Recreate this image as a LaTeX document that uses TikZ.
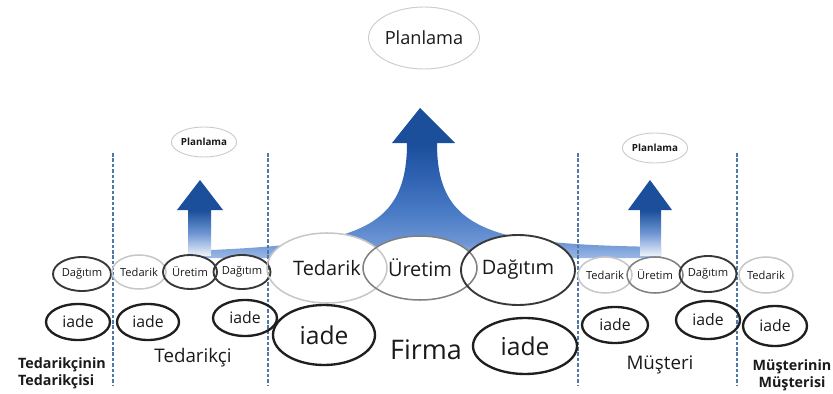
\documentclass[tikz,border=0pt]{standalone}
\usepackage{fontspec}
\setmainfont{Open Sans}
\usetikzlibrary{shapes.geometric}

\pgfdeclarelayer{background}
\pgfsetlayers{background,main}

\definecolor{flowdark}{HTML}{1B4F9C}
\definecolor{flowmid}{HTML}{2F62B2}
\definecolor{flowblue}{HTML}{4A7CC6}
\definecolor{flowsoft}{HTML}{6E96D4}
\definecolor{flowband}{HTML}{9BB9E6}
\definecolor{smallpale}{HTML}{EEF3FB}
\definecolor{divider}{HTML}{4F78A8}
\definecolor{ink}{HTML}{1A1A1A}

% vertical colour runs for the arrows (the path box maps onto 25bp..75bp)
\pgfdeclareverticalshading{bigflow}{100bp}{color(0bp)=(flowband); color(25bp)=(flowband); color(30bp)=(flowsoft); color(40bp)=(flowblue); color(52bp)=(flowmid); color(63bp)=(flowdark); color(100bp)=(flowdark)}
\pgfdeclareverticalshading{smallflow}{100bp}{color(0bp)=(smallpale); color(25bp)=(smallpale); color(40bp)=(flowsoft); color(55bp)=(flowdark); color(100bp)=(flowdark)}

\tikzset{
  stagebox/.style={ellipse, inner sep=0pt, outer sep=0pt, text=ink},
  light/.style={draw=black!22, line width=1.3pt},
  mid/.style={draw=black!50, line width=1.3pt},
  dark/.style={draw=black!78, line width=1.6pt},
  ret/.style={draw=black!88, line width=2pt},
  plan/.style={draw=black!20, line width=0.8pt},
  smalltxt/.style={font=\fontsize{9.5}{10}\selectfont},
  bigtxt/.style={font=\fontsize{17}{18}\selectfont},
  iadesmall/.style={font=\fontsize{13.5}{14}\selectfont},
  iadebig/.style={font=\fontsize{21}{22}\selectfont},
  divline/.style={draw=divider, line width=0.9pt, dash pattern=on 3pt off 1.6pt},
  zonetxt/.style={text=ink, font=\fontsize{16}{17}\selectfont},
  outertxt/.style={text=ink, font=\fontsize{12.2}{14.6}\selectfont\bfseries},
}

% #1 name, #2 x, #3 y, #4 x radius, #5 y radius, #6 style, #7 text
\newcommand\stage[7]{%
  \begin{pgfonlayer}{background}
    \fill[white] (#2,#3) ellipse [x radius=#4, y radius=#5];
  \end{pgfonlayer}
  \node[stagebox, #6, minimum width={2*#4*0.03cm}, minimum height={2*#5*0.03cm}] (#1) at (#2,#3) {#7};
}

\begin{document}
\begin{tikzpicture}[x=0.03cm, y=-0.03cm]
\useasboundingbox (0,0) rectangle (833,394);

% flows of information rising to planning
\begin{pgfonlayer}{background}
  \shade[shading=bigflow]
    (407,143) -- (392,143) -- (420,108) -- (455,143) -- (437,143)
    .. controls (437,195) and (455,225) .. (520,238)
    .. controls (565,245) and (610,246) .. (661,247)
    -- (661,258) -- (188,258) -- (188,251)
    .. controls (240,249) and (290,246) .. (320,240)
    .. controls (385,228) and (407,200) .. (407,143) -- cycle;
  \shade[shading=smallflow]
    (188,256) -- (188,210) -- (177,210) -- (200,180) -- (223,210) -- (211,210) -- (211,256) -- cycle;
  \shade[shading=smallflow]
    (640,256) -- (640,210) -- (628,210) -- (650,180) -- (672,210) -- (661,210) -- (661,256) -- cycle;
\end{pgfonlayer}

% zone dividers
\foreach \xd in {113,268,578,737}
  \draw[divline] (\xd,153) -- (\xd,386);

% planning
\stage{planF}{424}{38}{55}{31}{plan, font=\fontsize{15.5}{16}\selectfont}{Planlama}
\stage{planL}{204}{142}{32}{15}{plan, font=\fontsize{8.4}{9}\selectfont\bfseries}{Planlama}
\stage{planR}{655}{148}{32}{15}{plan, font=\fontsize{8.4}{9}\selectfont\bfseries}{Planlama}

% supplier's supplier and supplier
\stage{dagA}{82}{274}{29}{17}{dark, smalltxt}{Dağıtım}
\stage{tedB}{139}{272}{27}{17}{light, smalltxt}{Tedarik}
\stage{ureB}{190}{272}{27}{17}{dark, smalltxt}{Üretim}
\stage{dagB}{242}{272}{28}{17}{dark, smalltxt}{Dağıtım}
\stage{iadeA}{78}{322}{32}{18}{ret, iadesmall}{iade}
\stage{iadeB1}{148}{322}{31}{18}{ret, iadesmall}{iade}
\stage{iadeB2}{245}{318}{32}{18}{ret, iadesmall}{iade}

% firm
\stage{tedF}{327}{268}{60}{35}{light, bigtxt}{Tedarik}
\stage{ureF}{420}{268}{57}{32}{mid, bigtxt}{Üretim}
\stage{dagF}{518}{270}{57}{35}{dark, bigtxt}{Dağıtım}
\stage{iadeF1}{324}{335}{51}{30}{ret, iadebig}{iade}
\stage{iadeF2}{525}{346}{52}{28}{ret, iadebig}{iade}

% customer and customer's customer
\stage{tedC}{605}{275}{27}{18}{light, smalltxt}{Tedarik}
\stage{ureC}{655}{275}{28}{18}{mid, smalltxt}{Üretim}
\stage{dagC}{708}{274}{28}{18}{dark, smalltxt}{Dağıtım}
\stage{tedD}{766}{275}{27}{18}{light, smalltxt}{Tedarik}
\stage{iadeC1}{615}{325}{33}{18}{ret, iadesmall}{iade}
\stage{iadeC2}{708}{320}{32}{19}{ret, iadesmall}{iade}
\stage{iadeD}{775}{326}{32}{20}{ret, iadesmall}{iade}

% zone names
\node[outertxt, align=left, anchor=west] (zoneA) at (14,373) {Tedarikçinin\\Tedarikçisi};
\node[zonetxt] (zoneB) at (193,358) {Tedarikçi};
\node[text=ink, font=\fontsize{23}{24}\selectfont] (zoneF) at (426,350) {Firma};
\node[zonetxt] (zoneC) at (660,365) {Müşteri};
\node[outertxt, align=center] (zoneD) at (792,375) {Müşterinin\\Müşterisi};
\end{tikzpicture}
\end{document}
